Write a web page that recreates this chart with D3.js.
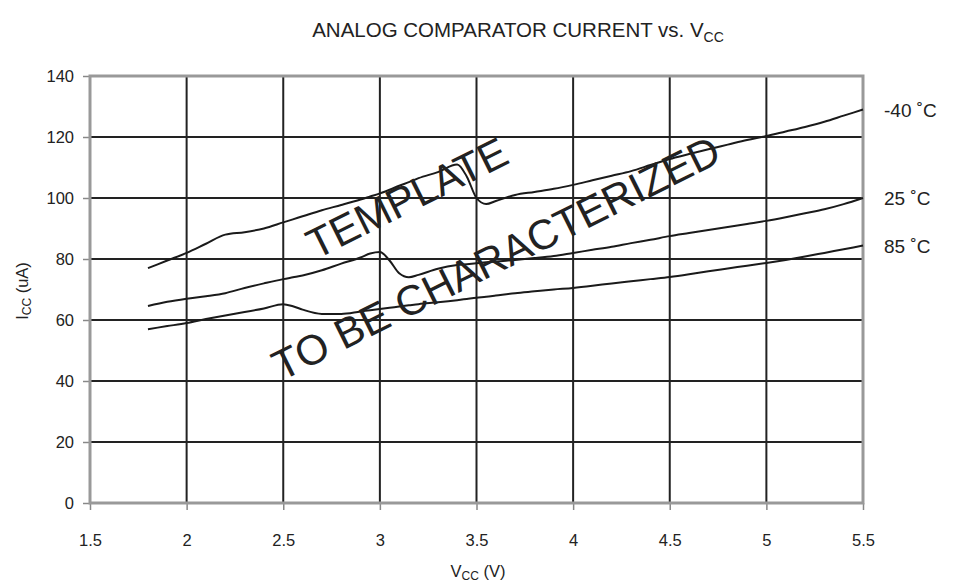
<!DOCTYPE html>
<html><head><meta charset="utf-8">
<script src="https://cdn.jsdelivr.net/npm/d3@7"></script>
<style>body{margin:0;background:#fff}svg{display:block}text{font-family:"Liberation Sans",Arial,sans-serif;fill:#222}</style>
</head><body>
<svg id="c" width="956" height="587"></svg>
<script>
const xTicks = [1.5,2,2.5,3,3.5,4,4.5,5,5.5];
const yTicks = [0,20,40,60,80,100,120,140];
const vcc = [1.8,1.9,2.0,2.1,2.2,2.3,2.4,2.5,2.55,2.6,2.7,2.8,2.9,2.95,3.0,3.05,3.1,3.15,3.2,3.3,3.4,3.45,3.5,3.55,3.6,3.7,3.8,3.9,4.0,4.1,4.2,4.3,4.4,4.5,4.6,4.7,4.8,4.9,5.0,5.1,5.2,5.3,5.4,5.5];
const iccM40 = [77,79.5,82,85,88,88.8,90,92,93,94,96,97.7,99.5,100.5,101.5,102.7,104,105.2,106.5,108.5,111,107,100,98,99,101,102,103,104.3,105.8,107.3,108.8,110.8,112.8,114.4,116,117.5,119,120.3,121.8,123.3,125,127,129];
const icc25 = [64.6,66,67,67.8,68.8,70.5,72,73.4,74,74.6,76.3,78.5,80.5,81.8,82.3,79.5,75.3,74,74.8,76.8,78,78.3,78.6,78.9,79.2,79.7,80.3,81,82,83,84,85.2,86.3,87.5,88.5,89.5,90.5,91.5,92.5,93.7,95,96.3,98,100];
const icc85 = [57,58,59,60.3,61.5,62.6,63.8,65.2,64.5,63.4,62,62,62.8,63.2,63.6,64,64.4,64.8,65.2,65.8,66.5,66.9,67.3,67.6,68,68.8,69.4,70,70.5,71.2,72,72.7,73.4,74.1,75,76,76.9,77.8,78.7,79.7,80.8,82,83.2,84.4];
const seriesNames = ["-40 ˚C","25 ˚C","85 ˚C"];
const seriesVals = [iccM40, icc25, icc85];

const svg = d3.select("#c");
const L=90,R=863,T=76,B=503;
const x = d3.scaleLinear().domain([1.5,5.5]).range([L,R]);
const y = d3.scaleLinear().domain([0,140]).range([B,T]);

// gridlines
svg.append("g").selectAll("line").data(xTicks.slice(1,-1)).join("line")
  .attr("x1",d=>x(d)).attr("x2",d=>x(d)).attr("y1",T).attr("y2",B)
  .attr("stroke","#222").attr("stroke-width",2);
svg.append("g").selectAll("line").data(yTicks.slice(1,-1)).join("line")
  .attr("y1",d=>y(d)).attr("y2",d=>y(d)).attr("x1",L).attr("x2",R)
  .attr("stroke","#222").attr("stroke-width",2);

// axes
const xa = svg.append("g").attr("transform",`translate(0,${B})`)
  .call(d3.axisBottom(x).tickValues(xTicks).tickFormat(d3.format("")).tickSize(7).tickSizeOuter(0));
const ya = svg.append("g").attr("transform",`translate(${L},0)`)
  .call(d3.axisLeft(y).tickValues(yTicks).tickSize(7).tickSizeOuter(0));
[xa,ya].forEach(a=>{a.select(".domain").remove();
  a.selectAll("line").attr("stroke","#888").attr("stroke-width",1.5);
  a.selectAll("text").style("font-size","16.5px").style("font-family","'Liberation Sans',Arial,sans-serif").attr("fill","#222");});
xa.selectAll("text").attr("y",0).attr("dy",0).attr("transform","translate(0,43)");
ya.selectAll("text").attr("x",-16);

// border
svg.append("rect").attr("x",L).attr("y",T).attr("width",R-L).attr("height",B-T)
  .attr("fill","none").attr("stroke","#999").attr("stroke-width",3);

// curves
const line = d3.line().x((d,i)=>x(vcc[i])).y(d=>y(d)).curve(d3.curveMonotoneX);
svg.append("g").selectAll("path").data(seriesVals).join("path")
  .attr("d",line).attr("fill","none").attr("stroke","#1a1a1a").attr("stroke-width",2);

// series labels
const labOff = [7,7,7];
svg.append("g").selectAll("text").data(seriesNames).join("text")
  .attr("x",884).attr("y",(d,i)=>y(seriesVals[i][seriesVals[i].length-1]) + labOff[i])
  .style("font-size","19px").text(d=>d);

// watermark
svg.append("text").attr("transform","translate(407,198) rotate(-26.5)")
  .attr("text-anchor","middle").attr("dominant-baseline","central")
  .style("font-size","42px").attr("fill","#000").text("TEMPLATE");
svg.append("text").attr("transform","translate(496,258) rotate(-26.5)")
  .attr("text-anchor","middle").attr("dominant-baseline","central")
  .style("font-size","42px").attr("fill","#000").text("TO BE CHARACTERIZED");

// title
const t = svg.append("text").attr("x",518).attr("y",37).attr("text-anchor","middle").style("font-size","20.5px");
t.append("tspan").text("ANALOG COMPARATOR CURRENT vs. V");
t.append("tspan").attr("dy",5).style("font-size","14px").text("CC");

// x label
const xl = svg.append("text").attr("x",478).attr("y",577).attr("text-anchor","middle").style("font-size","16.5px");
xl.append("tspan").text("V");
xl.append("tspan").attr("dy",3).style("font-size","12px").text("CC");
xl.append("tspan").attr("dy",-3).text(" (V)");

// y label
const yl = svg.append("text").attr("transform","translate(28,291) rotate(-90)").attr("text-anchor","middle").style("font-size","16.5px");
yl.append("tspan").text("I");
yl.append("tspan").attr("dy",3).style("font-size","12px").text("CC");
yl.append("tspan").attr("dy",-3).text(" (uA)");
</script>
</body></html>
